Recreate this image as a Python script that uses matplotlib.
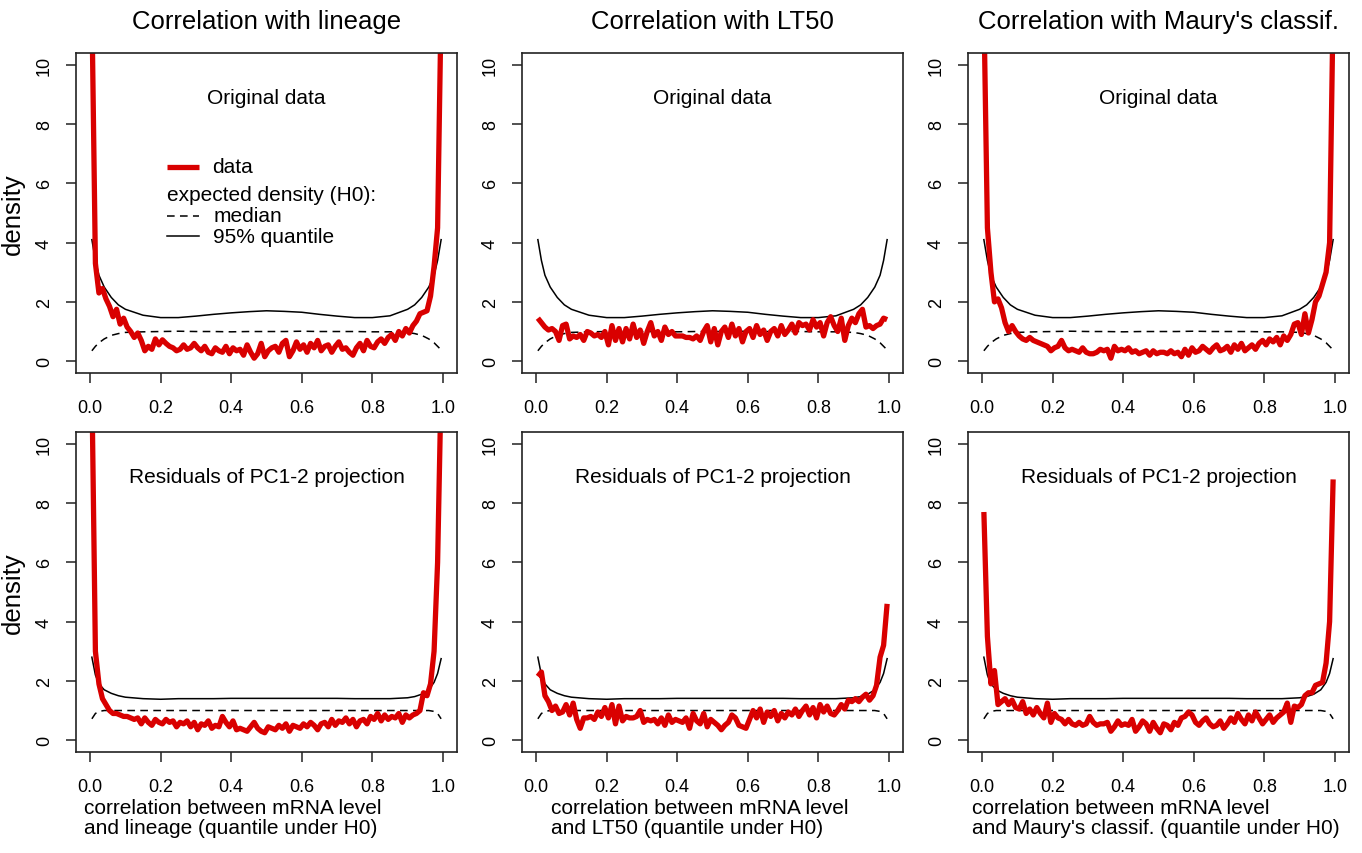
import numpy as np
import matplotlib.pyplot as plt

plt.rcParams["font.family"] = ["Liberation Sans", "DejaVu Sans"]

# bin centres of the correlation quantile (100 bins)
bin_centres = np.arange(100) * 0.01 + 0.005

# observed densities, top row = original data, bottom row = residuals of PC1-2
density_lineage_orig = [
    12, 3.3, 2.3, 2.45, 2.1, 1.85, 1.5, 1.75, 1.25, 1.45,
    1.15, 1.0, 0.8, 0.95, 0.7, 0.35, 0.5, 0.4, 0.75, 0.55,
    0.72, 0.6, 0.5, 0.45, 0.35, 0.4, 0.55, 0.4, 0.45, 0.6,
    0.45, 0.35, 0.5, 0.3, 0.25, 0.45, 0.35, 0.3, 0.5, 0.25,
    0.45, 0.35, 0.4, 0.2, 0.55, 0.3, 0.1, 0.25, 0.6, 0.15,
    0.35, 0.45, 0.5, 0.3, 0.6, 0.7, 0.15, 0.35, 0.65, 0.4,
    0.55, 0.3, 0.6, 0.45, 0.7, 0.35, 0.5, 0.55, 0.3, 0.5,
    0.65, 0.4, 0.45, 0.3, 0.2, 0.45, 0.6, 0.35, 0.7, 0.5,
    0.45, 0.65, 0.75, 0.6, 0.8, 0.9, 0.7, 1.0, 0.85, 1.1,
    0.95, 1.2, 1.35, 1.6, 1.65, 1.7, 2.2, 3.2, 4.5, 12,
]
density_lt50_orig = [
    1.45, 1.3, 1.15, 1.05, 1.1, 1.0, 0.7, 1.2, 1.25, 0.75,
    0.85, 0.8, 0.9, 0.7, 1.0, 0.95, 0.85, 0.9, 0.8, 1.0,
    0.55, 1.2, 0.7, 1.1, 0.65, 1.1, 0.75, 1.25, 0.8, 1.05,
    0.6, 1.0, 1.3, 0.85, 1.0, 0.7, 1.15, 0.9, 1.0, 0.85,
    0.85, 0.85, 0.8, 0.8, 0.75, 0.85, 0.7, 1.0, 1.2, 0.65,
    1.1, 0.55, 1.0, 1.15, 0.8, 1.25, 0.85, 1.1, 0.65, 1.0,
    1.1, 0.8, 1.2, 0.9, 1.05, 0.7, 1.0, 1.1, 0.85, 1.2,
    0.9, 1.05, 1.25, 0.95, 1.3, 1.2, 1.25, 1.05, 1.4, 1.15,
    1.3, 0.85, 1.3, 1.5, 1.2, 1.0, 1.45, 0.7, 1.2, 1.45,
    1.3, 1.6, 1.75, 1.15, 1.2, 1.1, 1.2, 1.25, 1.45, 1.4,
]
density_maury_orig = [
    12, 4.5, 3.0, 2.0, 2.1, 1.8, 1.3, 1.0, 1.2, 1.0,
    0.85, 0.75, 0.7, 0.8, 0.7, 0.65, 0.6, 0.55, 0.5, 0.35,
    0.45, 0.5, 0.7, 0.45, 0.35, 0.4, 0.35, 0.3, 0.45, 0.3,
    0.25, 0.25, 0.3, 0.4, 0.35, 0.4, 0.1, 0.5, 0.35, 0.4,
    0.35, 0.45, 0.3, 0.35, 0.25, 0.3, 0.35, 0.2, 0.35, 0.25,
    0.3, 0.3, 0.25, 0.35, 0.25, 0.3, 0.15, 0.4, 0.2, 0.45,
    0.3, 0.35, 0.5, 0.4, 0.3, 0.45, 0.55, 0.35, 0.4, 0.5,
    0.3, 0.55, 0.4, 0.6, 0.35, 0.45, 0.55, 0.4, 0.6, 0.7,
    0.55, 0.75, 0.65, 0.8, 0.55, 0.85, 0.7, 0.9, 1.25, 1.3,
    0.9, 1.6, 0.95, 1.4, 2.0, 2.2, 2.6, 3.0, 4.0, 12,
]
density_lineage_resid = [
    12, 3.0, 1.9, 1.4, 1.2, 1.0, 0.9, 0.9, 0.85, 0.8,
    0.8, 0.75, 0.7, 0.75, 0.55, 0.75, 0.6, 0.5, 0.7, 0.6,
    0.55, 0.7, 0.6, 0.65, 0.45, 0.6, 0.55, 0.65, 0.45, 0.6,
    0.35, 0.55, 0.5, 0.65, 0.4, 0.5, 0.45, 0.8, 0.6, 0.45,
    0.65, 0.35, 0.4, 0.35, 0.3, 0.45, 0.6, 0.4, 0.3, 0.25,
    0.45, 0.4, 0.35, 0.5, 0.4, 0.55, 0.3, 0.5, 0.45, 0.4,
    0.55, 0.45, 0.6, 0.5, 0.35, 0.55, 0.6, 0.45, 0.7, 0.5,
    0.65, 0.6, 0.75, 0.55, 0.7, 0.45, 0.65, 0.7, 0.55, 0.8,
    0.7, 0.9, 0.65, 0.85, 0.7, 0.8, 0.75, 0.9, 0.6, 0.85,
    0.75, 0.85, 0.9, 1.0, 1.6, 1.5, 1.9, 3.0, 6.0, 12,
]
density_lt50_resid = [
    2.15, 2.3, 1.5, 1.3, 1.0, 1.15, 0.9, 0.95, 1.2, 0.85,
    1.25, 0.7, 0.4, 0.75, 0.75, 0.8, 0.7, 0.95, 0.8, 1.1,
    0.75, 1.2, 0.55, 1.15, 0.65, 0.8, 0.75, 0.75, 0.8, 1.0,
    0.6, 0.7, 0.65, 0.7, 0.55, 0.75, 0.5, 0.85, 0.6, 0.7,
    0.65, 0.6, 0.75, 0.4, 0.9, 0.65, 0.55, 0.9, 0.45, 0.7,
    0.6, 0.5, 0.35, 0.5, 0.6, 0.85, 0.75, 0.5, 0.45, 0.4,
    0.7, 1.0, 0.75, 1.05, 0.6, 0.95, 0.8, 1.0, 0.65, 0.9,
    0.75, 0.95, 0.85, 1.05, 0.8, 1.0, 1.15, 0.85, 1.1, 0.75,
    1.2, 0.95, 1.15, 0.9, 0.85, 1.0, 1.2, 1.05, 1.35, 1.3,
    1.4, 1.3, 1.45, 1.55, 1.35, 1.5, 1.85, 2.8, 3.2, 4.6,
]
density_maury_resid = [
    7.7, 3.5, 1.9, 2.35, 1.2, 1.3, 1.4, 1.2, 1.35, 1.1,
    1.05, 1.3, 0.9, 1.05, 0.85, 1.1, 0.9, 0.75, 1.25, 0.6,
    0.9, 0.75, 0.7, 0.55, 0.7, 0.55, 0.5, 0.6, 0.5, 0.55,
    0.8, 0.6, 0.5, 0.55, 0.55, 0.6, 0.3, 0.45, 0.65, 0.5,
    0.55, 0.5, 0.7, 0.3, 0.45, 0.65, 0.55, 0.3, 0.6, 0.4,
    0.25, 0.55, 0.5, 0.35, 0.6, 0.5, 0.75, 0.8, 0.95, 0.85,
    0.6, 0.5, 0.65, 0.75, 0.55, 0.45, 0.5, 0.65, 0.4, 0.55,
    0.75, 0.6, 0.9, 0.7, 0.55, 0.85, 0.65, 0.95, 0.75, 0.55,
    0.7, 0.85, 0.6, 0.75, 0.85, 0.95, 1.25, 0.6, 1.15, 1.1,
    1.2, 1.5, 1.6, 1.6, 1.85, 1.9, 1.95, 2.6, 4.0, 8.8,
]

# expected density under H0 (median and 95% quantile), one curve per row
h0_x = [0.005, 0.015, 0.025, 0.04, 0.06, 0.08, 0.1, 0.15, 0.2, 0.25,
        0.3, 0.35, 0.4, 0.45, 0.5, 0.55, 0.6, 0.65, 0.7, 0.75,
        0.8, 0.85, 0.9, 0.92, 0.94, 0.96, 0.975, 0.985, 0.995]
h0_q95_orig = [4.1, 3.4, 2.9, 2.5, 2.15, 1.9, 1.75, 1.55, 1.47, 1.47,
               1.52, 1.58, 1.63, 1.67, 1.7, 1.68, 1.65, 1.58, 1.52, 1.47,
               1.47, 1.53, 1.75, 1.9, 2.15, 2.5, 2.9, 3.4, 4.1]
h0_median_orig = [0.35, 0.5, 0.62, 0.75, 0.87, 0.93, 0.97, 0.99, 1.0, 1.01,
                  1.0, 1.0, 0.99, 1.0, 1.0, 1.0, 1.01, 1.0, 1.0, 1.0,
                  0.99, 0.99, 0.97, 0.93, 0.87, 0.75, 0.62, 0.5, 0.38]
h0_q95_resid = [2.8, 2.2, 1.9, 1.7, 1.58, 1.5, 1.45, 1.4, 1.38, 1.4,
                1.4, 1.4, 1.41, 1.41, 1.41, 1.41, 1.41, 1.41, 1.41, 1.4,
                1.4, 1.4, 1.43, 1.47, 1.55, 1.7, 1.95, 2.25, 2.75]
h0_median_resid = [0.72, 0.9, 0.97, 1.0, 1.0, 1.0, 1.0, 1.0, 1.0, 1.0,
                   1.0, 1.0, 1.0, 1.0, 1.0, 1.0, 1.0, 1.0, 1.0, 1.0,
                   1.0, 1.0, 1.0, 1.0, 1.0, 1.0, 0.97, 0.9, 0.72]

column_titles = ["Correlation with lineage", "Correlation with LT50",
                 "Correlation with Maury's classif."]
row_texts = ["Original data", "Residuals of PC1-2 projection"]
x_labels = ["correlation between mRNA level\nand lineage (quantile under H0)",
            "correlation between mRNA level\nand LT50 (quantile under H0)",
            "correlation between mRNA level\nand Maury's classif. (quantile under H0)"]

observed = [
    [density_lineage_orig, density_lt50_orig, density_maury_orig],
    [density_lineage_resid, density_lt50_resid, density_maury_resid],
]
expected = [
    (h0_median_orig, h0_q95_orig),
    (h0_median_resid, h0_q95_resid),
]

red = "#d90000"
dash = (5, 3.5)
W, H = 1362, 854
fig = plt.figure(figsize=(W / 100, H / 100), dpi=100)

col_left = [76, 522, 968]
col_width = 381
row_top = [54, 433]
row_height = 320
xlab_left = [84, 551, 972]

for r in range(2):
    for c in range(3):
        ax = fig.add_axes([col_left[c] / W, 1 - (row_top[r] + row_height) / H,
                           col_width / W, row_height / H])
        med, q95 = expected[r]
        ax.plot(h0_x, med, color="black", lw=1.1, dashes=dash)
        ax.plot(h0_x, q95, color="black", lw=1.1)
        ax.plot(bin_centres, observed[r][c], color=red, lw=3.8,
                solid_joinstyle="round", solid_capstyle="butt")

        ax.set_xlim(-0.04, 1.04)
        ax.set_ylim(-0.4, 10.4)
        ax.set_xticks([0, 0.2, 0.4, 0.6, 0.8, 1.0])
        ax.set_xticklabels(["0.0", "0.2", "0.4", "0.6", "0.8", "1.0"])
        ax.set_yticks([0, 2, 4, 6, 8, 10])
        ax.tick_params(axis="both", direction="out", length=7.5, width=1.1,
                       labelsize=13, color="#222222")
        ax.tick_params(axis="x", pad=11)
        ax.tick_params(axis="y", pad=9)
        for lab in ax.get_yticklabels():
            lab.set_rotation(90)
            lab.set_va("center")
        for sp in ax.spines.values():
            sp.set_linewidth(1.2)
            sp.set_color("#222222")

        ax.text(0.5, 8.9, row_texts[r], ha="center", va="center", fontsize=15)

        if c == 0:
            ax.set_ylabel("density", fontsize=18.5, labelpad=8)
        if r == 0:
            ax.set_title(column_titles[c], fontsize=18.5, pad=18)
        else:
            fig.text(xlab_left[c] / W, 1 - 799 / H, x_labels[c], ha="left",
                     va="top", fontsize=15, linespacing=1.1)

        if r == 0 and c == 0:
            # hand-built legend, as in the original figure
            ax.plot([0.239, 0.323], [0.644, 0.644], transform=ax.transAxes,
                    color=red, lw=3.8, solid_capstyle="butt")
            ax.text(0.357, 0.644, "data", transform=ax.transAxes,
                    va="center", fontsize=15)
            ax.text(0.239, 0.559, "expected density (H0):",
                    transform=ax.transAxes, va="center", fontsize=15)
            ax.plot([0.239, 0.323], [0.491, 0.491], transform=ax.transAxes,
                    color="black", lw=1.1, dashes=dash)
            ax.text(0.360, 0.491, "median", transform=ax.transAxes,
                    va="center", fontsize=15)
            ax.plot([0.239, 0.323], [0.428, 0.428], transform=ax.transAxes,
                    color="black", lw=1.1)
            ax.text(0.360, 0.428, "95% quantile", transform=ax.transAxes,
                    va="center", fontsize=15)

fig.savefig("out.png", dpi=100)
